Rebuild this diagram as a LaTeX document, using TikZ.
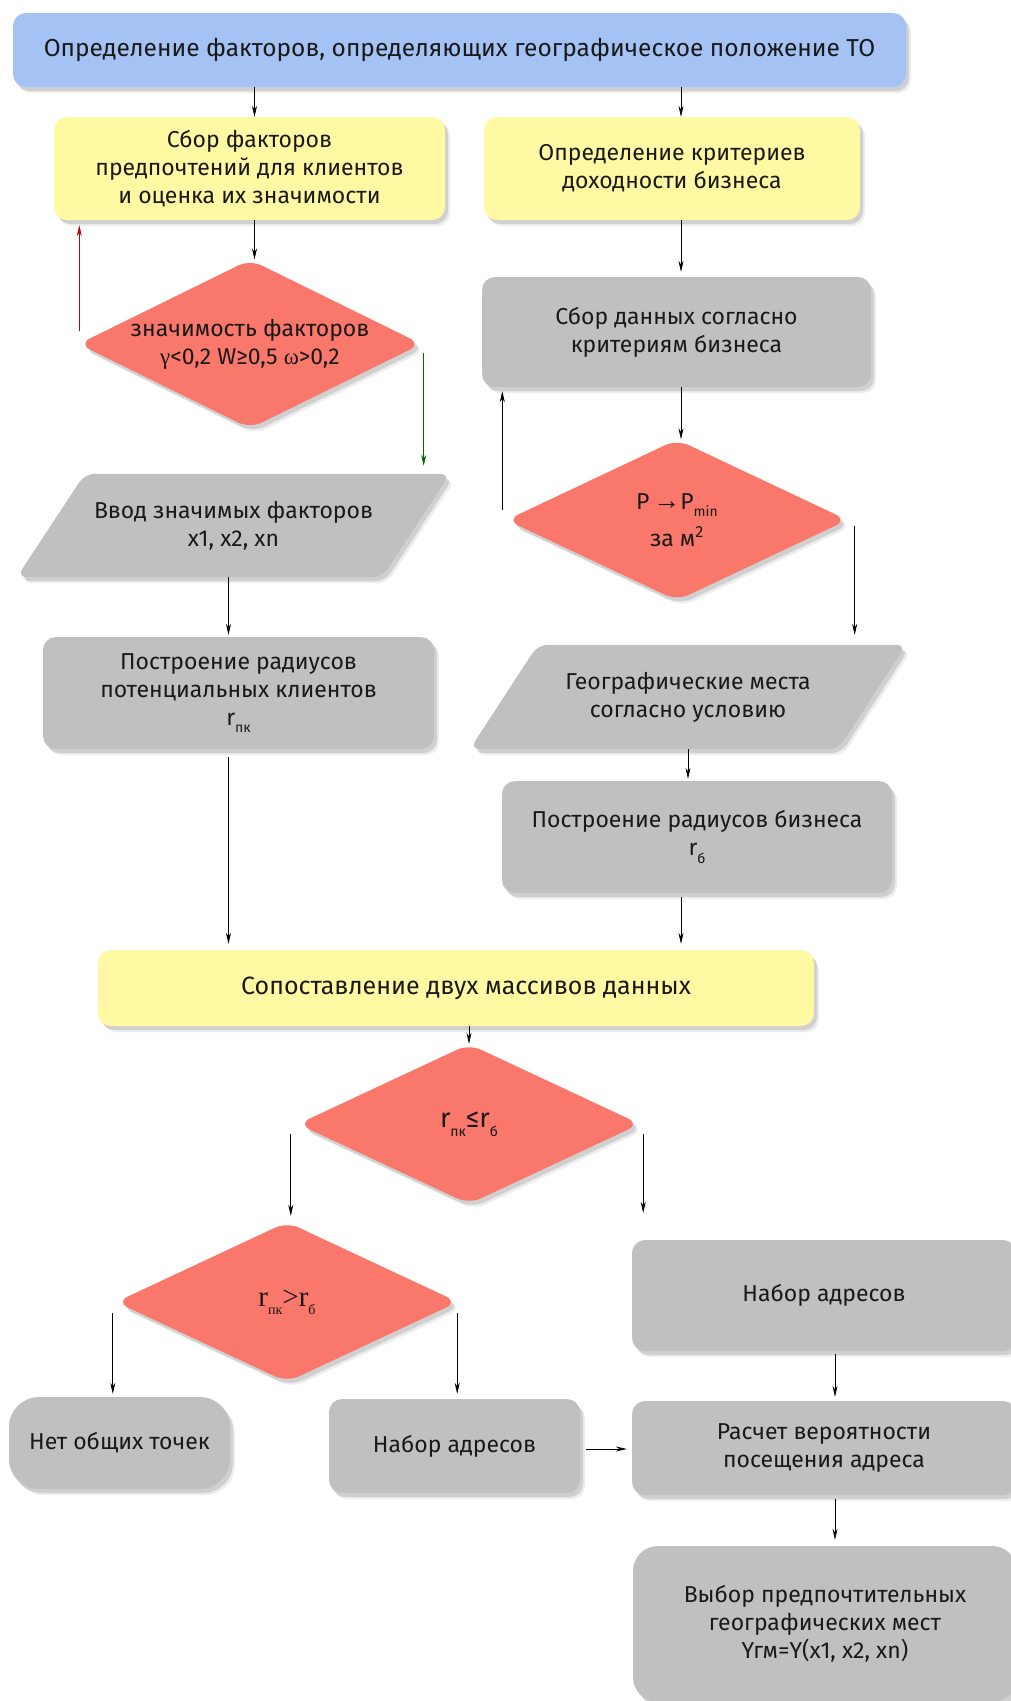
\documentclass[tikz,border=0pt]{standalone}
\usepackage{fontspec}
\setmainfont{Fira Sans}
\newfontfamily\grk{Liberation Serif}
\usetikzlibrary{shapes.geometric,shadows,arrows.meta,calc}
\definecolor{cblue}{HTML}{A4C2F4}
\definecolor{cyel}{HTML}{FFF9A3}
\definecolor{cred}{HTML}{F9776B}
\definecolor{cgray}{HTML}{C0C0C0}
\newcommand\lowsub[1]{\raisebox{-0.6ex}{\fontsize{14}{14}\selectfont #1}}
\pgfdeclarelayer{bg}
\pgfsetlayers{bg,main}
\begin{document}
\begin{tikzpicture}[x=1pt,y=-1pt,
 shd/.style={drop shadow={shadow xshift=5pt,shadow yshift=-6pt,opacity=0.07,fill=black},
             drop shadow={shadow xshift=3pt,shadow yshift=-4pt,opacity=0.12,fill=black}},
 base/.style={align=center, text=black!90, font=\fontsize{23}{28}\selectfont, inner sep=2pt},
 rbox/.style={base, shd, rectangle, rounded corners=13pt},
 dmd/.style={base, shd, diamond, fill=cred, rounded corners=13pt, inner sep=-30pt},
 parbox/.style={base, rectangle},
 parfill/.style={fill=cgray, shd, rounded corners=10pt},
 arr/.style={-{Stealth[length=11pt,width=5pt]}, line width=0.7pt, black}
]
\useasboundingbox (0,0) rectangle (1011,1701);

\node[rbox, fill=cblue, minimum width=893pt, minimum height=74pt, font=\fontsize{24.5}{28}\selectfont] (top) at (459.5,50) {Определение факторов, определяющих географическое положение ТО};
\node[rbox, fill=cyel, minimum width=391pt, minimum height=103pt] (y1) at (249.5,168.5) {Сбор факторов\\предпочтений для клиентов\\и оценка их значимости};
\node[rbox, fill=cyel, minimum width=376pt, minimum height=103pt] (y2) at (672,168.5) {Определение критериев\\доходности бизнеса};
\node[dmd, minimum width=343pt, minimum height=161pt] (d1) at (250,344) {значимость факторов\\{\grk γ}<0,2 W≥0,5 {\grk ω}>0,2};
\node[parbox, minimum width=433pt, minimum height=103pt] (p1) at (233.5,525.5) {Ввод значимых факторов\\x1, x2, xn};
\node[rbox, fill=cgray, minimum width=391pt, minimum height=112pt] (r1) at (238.5,693) {Построение радиусов\\потенциальных клиентов\\r\lowsub{пк}};
\node[rbox, fill=cgray, minimum width=389pt, minimum height=110pt] (g1) at (676.5,332) {Сбор данных согласно\\критериям бизнеса};
\node[dmd, minimum width=341pt, minimum height=161pt] (d2) at (677,520) {P\,{\grk\fontsize{27}{28}\selectfont →}P\lowsub{min}\\[9pt]за м\textsuperscript{2}};
\node[parbox, minimum width=436pt, minimum height=104pt] (p2) at (688,697) {Географические места\\согласно условию};
\node[rbox, fill=cgray, minimum width=390pt, minimum height=112pt] (r2) at (697,837) {Построение радиусов бизнеса\\r\lowsub{б}};
\node[rbox, fill=cyel, minimum width=716pt, minimum height=76pt, font=\fontsize{25}{28}\selectfont] (cmp) at (456,988) {\hspace*{20pt}Сопоставление двух массивов данных};
\node[dmd, minimum width=342pt, minimum height=160pt, font=\fontsize{27}{28}\selectfont] (d3) at (469,1124) {r\lowsub{пк}≤r\lowsub{б}};
\node[dmd, minimum width=342pt, minimum height=160pt] (d4) at (287,1302) {{\grk\fontsize{29}{28}\selectfont r\lowsub{пк}>r\lowsub{б}}};
\node[rbox, fill=cgray, rounded corners=30pt, minimum width=221pt, minimum height=92pt] (none) at (119.5,1443) {Нет общих точек};
\node[rbox, fill=cgray, minimum width=251pt, minimum height=94pt] (nab1) at (454.5,1446) {Набор адресов};
\node[rbox, fill=cgray, minimum width=384pt, minimum height=111pt] (nab2) at (824,1295.5) {Набор адресов};
\node[rbox, fill=cgray, minimum width=384pt, minimum height=94pt] (calc) at (824,1448) {Расчет вероятности\\посещения адреса};
\node[rbox, fill=cgray, rounded corners=25pt, minimum width=384pt, minimum height=156pt] (fin) at (825,1624) {Выбор предпочтительных\\географических мест\\Yгм=Y(x1, x2, xn)};

\begin{pgfonlayer}{bg}
\path[parfill] ([xshift=68pt]p1.north west) -- (p1.north east) -- ([xshift=-68pt]p1.south east) -- (p1.south west) -- cycle;
\path[parfill] ([xshift=68pt]p2.north west) -- (p2.north east) -- ([xshift=-68pt]p2.south east) -- (p2.south west) -- cycle;
\end{pgfonlayer}

\draw[arr] ([xshift=5pt]y1.north |- top.south) -- ([xshift=5pt]y1.north);
\draw[arr] ([xshift=9pt]y2.north |- top.south) -- ([xshift=9pt]y2.north);
\draw[arr] ([xshift=5pt]y1.south) -- ([xshift=5pt]y1.south |- d1.north);
\draw[arr, draw=red!80!black] ([xshift=1pt,yshift=13pt]d1.west) -- ([xshift=1pt,yshift=-5pt]d1.west |- y1.south);
\draw[arr, draw=green!40!black] ([xshift=2pt,yshift=-9pt]d1.east) -- ([xshift=2pt,yshift=8pt]d1.east |- p1.north);
\draw[arr] ([xshift=-5pt]p1.south) -- ([xshift=-5pt,yshift=2pt]p1.south |- r1.north);
\draw[arr] ([xshift=-10pt,yshift=-8pt]r1.south) -- ([xshift=-10pt,yshift=6pt]r1.south |- cmp.north);
\draw[arr] ([xshift=9pt]y2.south) -- ([xshift=9pt,yshift=5pt]y2.south |- g1.north);
\draw[arr] ([xshift=4.5pt]g1.south) -- ([xshift=4.5pt]g1.south |- d2.north);
\draw[arr] ([xshift=-4pt,yshift=10pt]d2.west) -- ([xshift=-4pt,yshift=-4pt]d2.west |- g1.south);
\draw[arr] ([xshift=7pt,yshift=-6pt]d2.east) -- ([xshift=7pt,yshift=10pt]d2.east |- p2.north);
\draw[arr] (p2.south) -- ([yshift=2pt]p2.south |- r2.north);
\draw[arr] ([xshift=-16pt,yshift=-4pt]r2.south) -- ([xshift=-16pt,yshift=6pt]r2.south |- cmp.north);
\draw[arr] (cmp.south -| d3.north) -- (d3.north);
\draw[arr] ([xshift=-7pt,yshift=-10pt]d3.west) -- ([xshift=-7pt,yshift=6pt]d3.west |- d4.north);
\draw[arr] ([xshift=3pt,yshift=-10pt]d3.east) -- ([xshift=3pt,yshift=27pt]d3.east |- nab2.north);
\draw[arr] ([xshift=-3pt,yshift=-11pt]d4.west) -- ([xshift=-3pt,yshift=3pt]d4.west |- none.north);
\draw[arr] ([xshift=-1pt,yshift=-11pt]d4.east) -- ([xshift=-1pt,yshift=5pt]d4.east |- nab1.north);
\draw[arr] ([xshift=6pt,yshift=-3pt]nab1.east) -- ([xshift=-5pt,yshift=-3pt]nab1.east -| calc.west);
\draw[arr] ([xshift=11pt,yshift=-3pt]nab2.south) -- ([xshift=11pt,yshift=4pt]nab2.south |- calc.north);
\draw[arr] ([xshift=11pt,yshift=-4pt]calc.south) -- ([xshift=11pt,yshift=6pt]calc.south |- fin.north);
\end{tikzpicture}
\end{document}
